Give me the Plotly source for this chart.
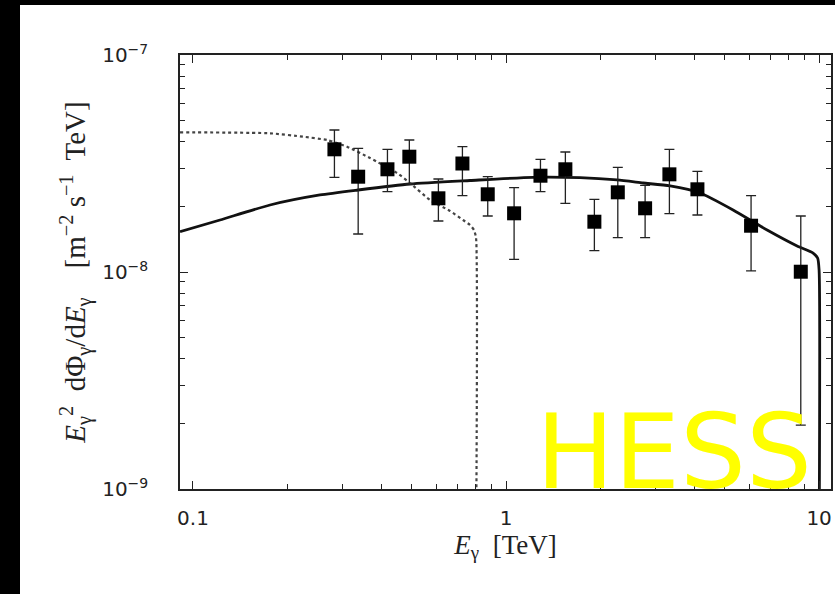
import plotly.graph_objects as go

# ---- data ----
# HESS points: energy [TeV], E^2 dPhi/dE [1e-8 m^-2 s^-1 TeV]
e_pts = [0.283, 0.337, 0.418, 0.491, 0.608, 0.7255, 0.874, 1.061, 1.288,
         1.547, 1.915, 2.275, 2.781, 3.325, 4.086, 6.063, 8.74]
f_pts = [3.676, 2.749, 2.974, 3.399, 2.186, 3.162, 2.281, 1.864, 2.778,
         2.974, 1.705, 2.329, 1.966, 2.819, 2.405, 1.634, 1.003]
f_hi = [4.512, 3.715, 3.676, 4.058, 2.683, 3.779, 2.749, 2.446, 3.306,
        3.573, 2.163, 3.037, 2.508, 3.676, 2.911, 2.247, 1.812]
f_lo = [2.732, 1.497, 2.344, 2.544, 1.718, 2.251, 1.812, 1.144, 2.344,
        2.073, 1.254, 1.439, 1.439, 1.856, 1.831, 1.011, 0.197]

# Solid model curve
e_solid = [0.0909, 0.122, 0.1762, 0.2545, 0.3367, 0.4935, 0.767, 1.22, 1.723,
           2.262, 2.74, 3.342, 4.168, 5.312, 6.823, 8.506, 9.568, 9.89, 10.0, 10.0]
f_solid = [1.534, 1.736, 2.036, 2.264, 2.387, 2.544, 2.641, 2.732, 2.72,
           2.655, 2.571, 2.491, 2.312, 1.931, 1.561, 1.318, 1.223, 1.16, 1.02, 0.05]

# Dotted model curve
e_dot = [0.0909, 0.1762, 0.2246, 0.268, 0.3105, 0.3676, 0.4485, 0.4935,
         0.5717, 0.6625, 0.729, 0.767, 0.790, 0.802, 0.802]
f_dot = [4.404, 4.357, 4.203, 4.058, 3.779, 3.352, 2.859, 2.571,
         2.147, 1.91, 1.736, 1.647, 1.561, 1.435, 0.05]

scale = 1e-8
x_tick_vals = [0.1, 1, 10]
x_tick_text = ["0.1", "1", "10"]
y_tick_vals = [1e-9, 1e-8, 1e-7]
y_tick_text = ["10<sup>\u22129</sup>", "10<sup>\u22128</sup>", "10<sup>\u22127</sup>"]

W, H = 835, 594
L, R, T, B = 180, 4, 55, 105
TOPBAND = 5
LEFTBAND = 20
pw, ph = W - L - R, H - T - B

fig = go.Figure()
fig.add_trace(go.Scatter(
    x=e_solid, y=[v * scale for v in f_solid], mode="lines",
    line=dict(color="#111111", width=2.8, shape="spline", smoothing=0.6),
    showlegend=False, hoverinfo="skip"))
fig.add_trace(go.Scatter(
    x=e_dot, y=[v * scale for v in f_dot], mode="lines",
    line=dict(color="#444444", width=2.2, dash="dot", shape="spline", smoothing=0.5),
    showlegend=False, hoverinfo="skip"))
fig.add_trace(go.Scatter(
    x=e_pts, y=[v * scale for v in f_pts], mode="markers",
    marker=dict(symbol="square", size=14, color="black"),
    error_y=dict(type="data", symmetric=False,
                 array=[(h - v) * scale for h, v in zip(f_hi, f_pts)],
                 arrayminus=[(v - l) * scale for v, l in zip(f_pts, f_lo)],
                 color="#222222", thickness=1.3, width=5),
    showlegend=False))

axis_common = dict(
    type="log", showgrid=False, zeroline=False, showline=True, linecolor="#222222",
    linewidth=1.5, mirror="allticks", ticks="inside", ticklen=8, tickwidth=1.2,
    tickcolor="#222222",
    minor=dict(ticks="inside", ticklen=5, tickwidth=1.2, tickcolor="#222222",
               dtick="D1", showgrid=False),
    tickfont=dict(family="DejaVu Sans", size=20, color="#222222"),
)

fig.update_layout(
    width=W, height=H,
    margin=dict(l=L, r=R, t=T, b=B, autoexpand=False),
    paper_bgcolor="white", plot_bgcolor="white",
    xaxis=dict(axis_common, range=[-1.0415, 1.038], tickvals=x_tick_vals,
               ticktext=x_tick_text, ticklabelstandoff=10,
               title=dict(text="<i>E</i><sub>\u03b3</sub>  [TeV]", standoff=4,
                          font=dict(family="Liberation Serif", size=27, color="#222222"))),
    yaxis=dict(axis_common, range=[-9, -7], tickvals=y_tick_vals,
               ticktext=y_tick_text, ticklabelstandoff=26,
               title=dict(text="<i>E</i><sub>\u03b3</sub><sup>2</sup>  d\u03a6<sub>\u03b3</sub>/d<i>E</i><sub>\u03b3</sub>    [m<sup>\u22122</sup> s<sup>\u22121</sup>  TeV]",
                          standoff=8,
                          font=dict(family="Liberation Serif", size=29, color="#222222"))),
    shapes=[
        dict(type="rect", xref="paper", yref="paper", layer="below",
             x0=-(L + 5) / pw, x1=(LEFTBAND - L) / pw,
             y0=-(B + 5) / ph, y1=1 + (T + 5) / ph,
             fillcolor="black", line=dict(width=0)),
        dict(type="rect", xref="paper", yref="paper", layer="below",
             x0=-(L + 5) / pw, x1=1 + (R + 5) / pw,
             y0=1 + (T - TOPBAND) / ph, y1=1 + (T + 5) / ph,
             fillcolor="black", line=dict(width=0)),
    ],
    annotations=[dict(text="HESS", xref="paper", yref="paper",
                      x=(674 - L) / pw, y=(H - B - 452) / ph,
                      xanchor="center", yanchor="middle", showarrow=False,
                      font=dict(family="DejaVu Sans", size=104, color="#FFFF00"))],
)

fig.write_html("out.html", config={"displayModeBar": False},
               post_script="document.body.style.margin='0px';")
